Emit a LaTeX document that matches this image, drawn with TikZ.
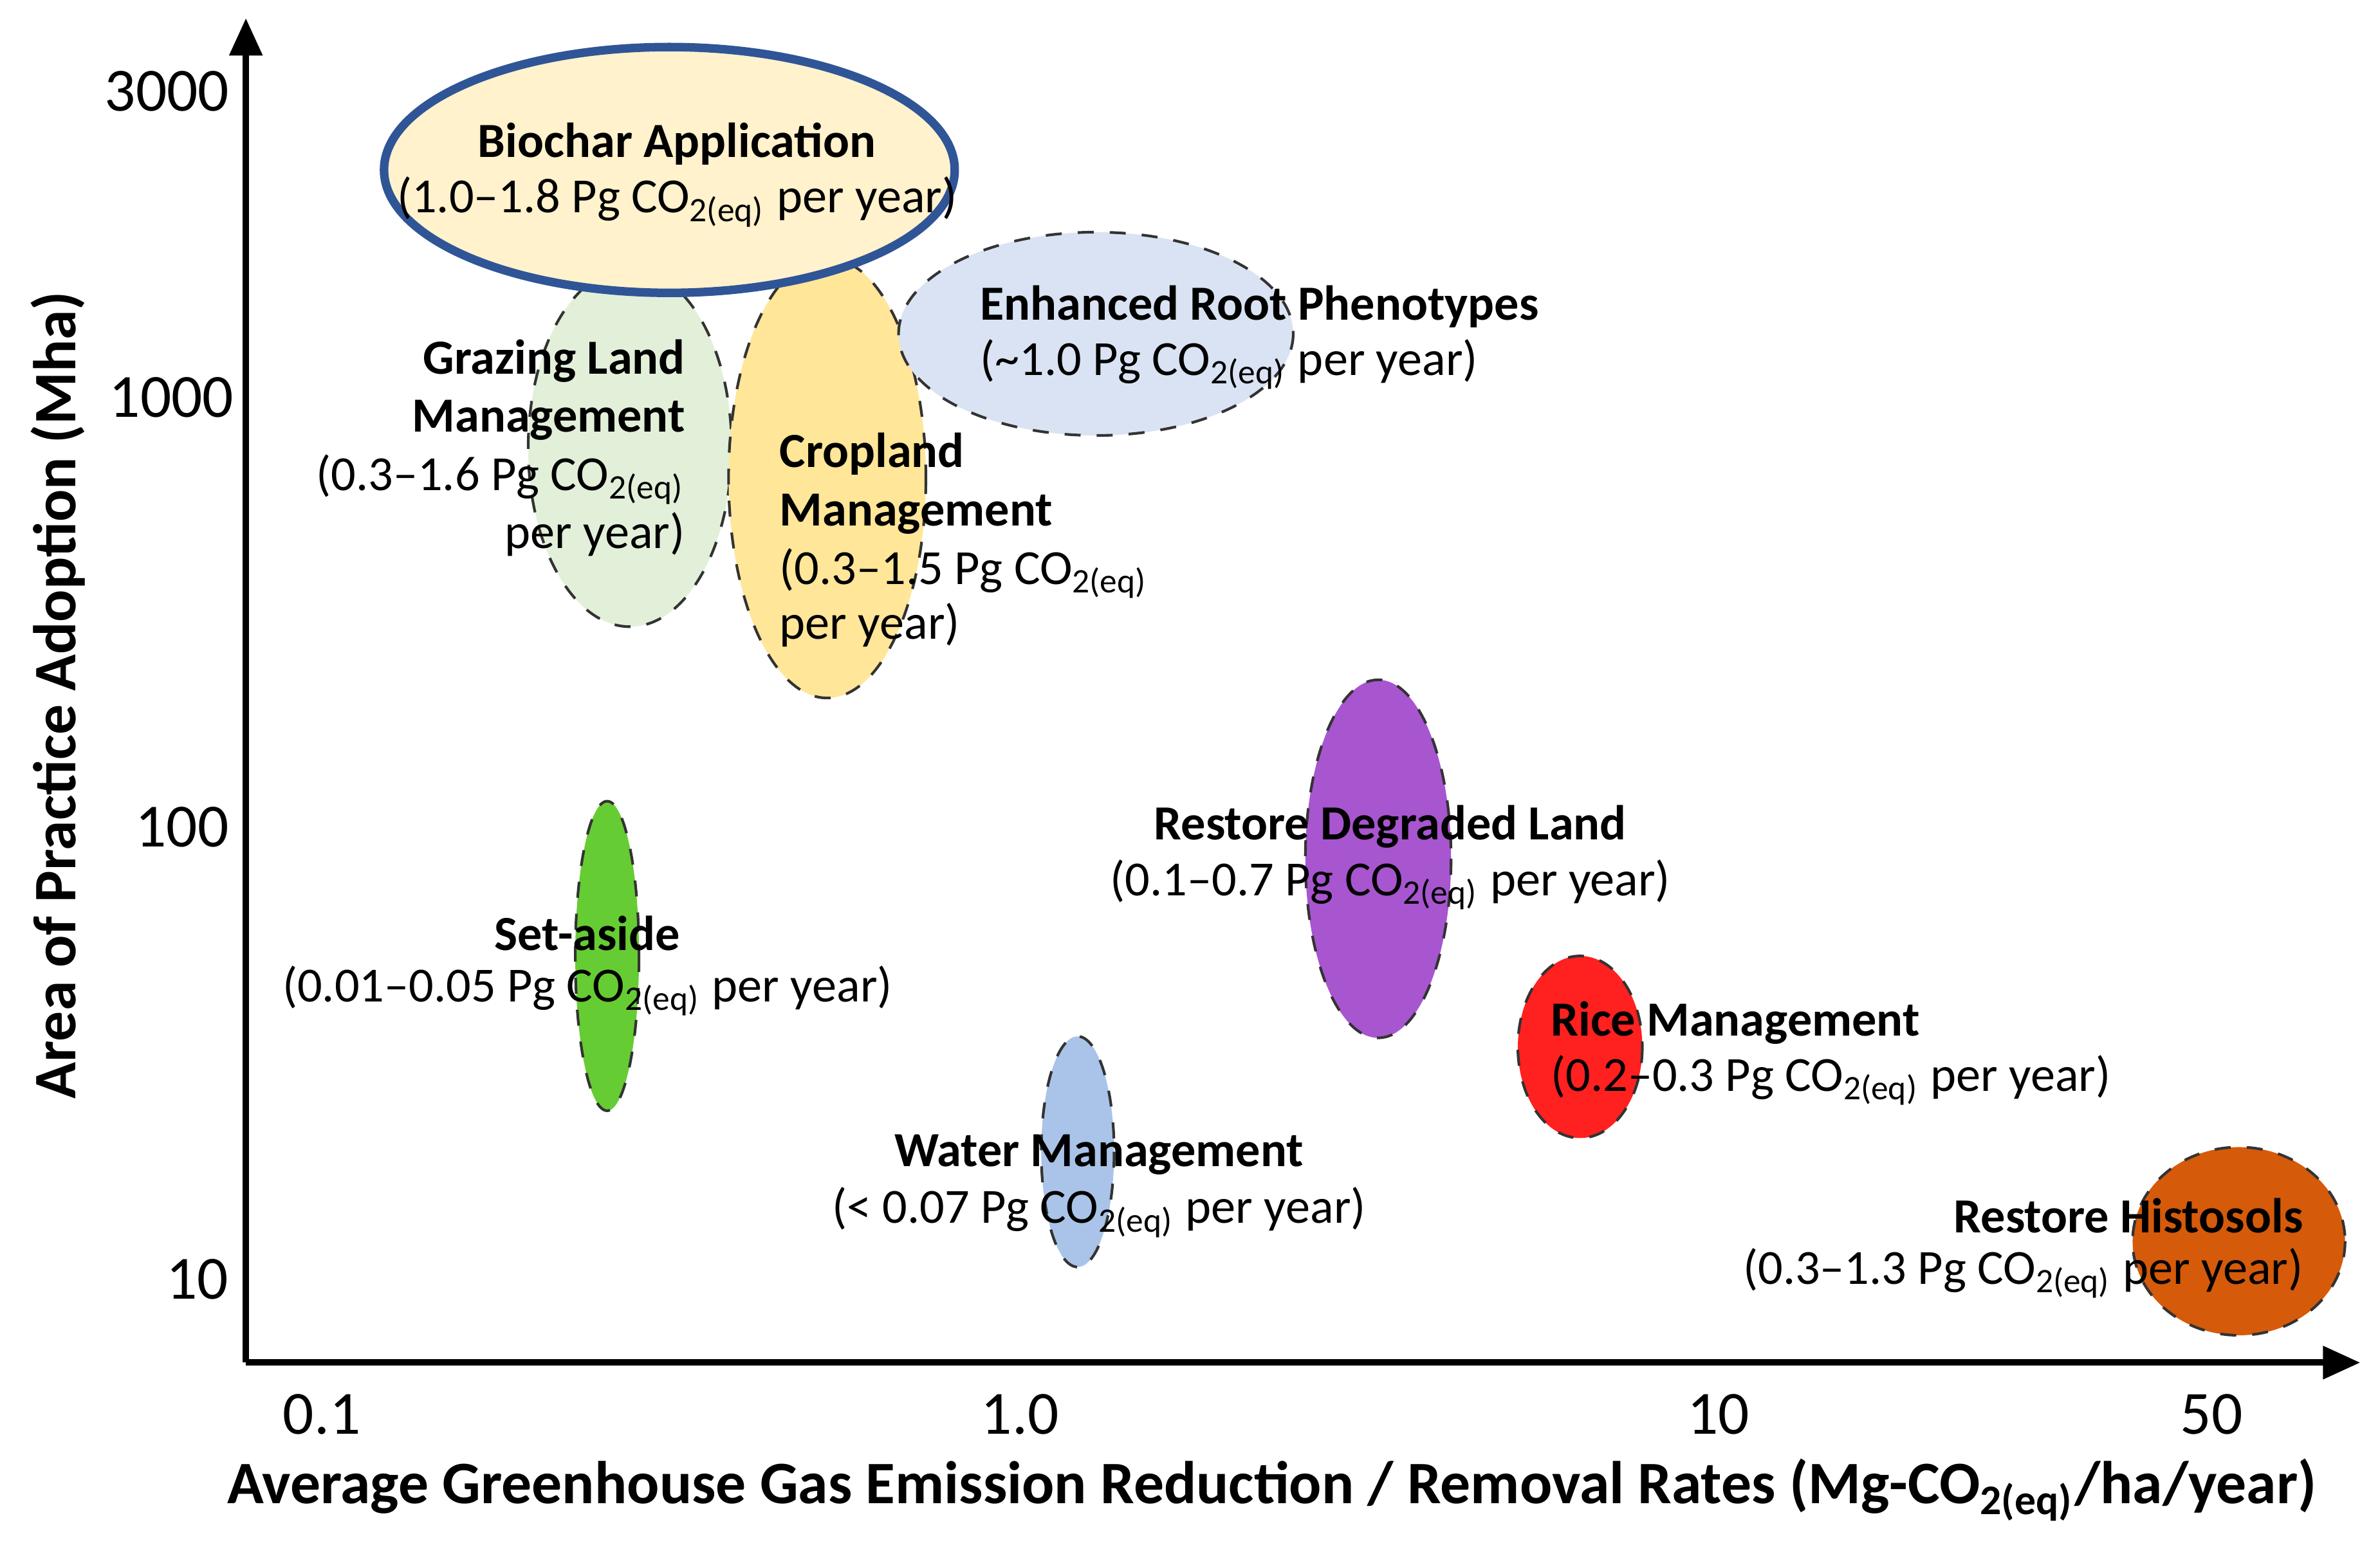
\documentclass[tikz,border=0pt]{standalone}
\usepackage{fontspec}
\setmainfont{Carlito}
\usetikzlibrary{arrows.meta}
\newcommand{\coeq}{CO\textsubscript{2(eq)}}
\begin{document}
\begin{tikzpicture}[x=0.01cm,y=-0.01cm,
  blob/.style={draw=black!80,dashed,line width=0.5pt},
  lb/.style={font=\fontsize{9.2}{11}\selectfont\bfseries,inner sep=0pt},
  lt/.style={font=\fontsize{9.2}{11}\selectfont,inner sep=0pt},
  tick/.style={font=\fontsize{11.5}{13}\selectfont,inner sep=0pt},
  axt/.style={font=\fontsize{11.3}{13}\selectfont\bfseries,inner sep=0pt}]
\useasboundingbox (0,0) rectangle (1568,1018);
% axes
\coordinate (o) at (162,898);
\coordinate (ytop) at (162,12);
\coordinate (xend) at (1555,898);
\draw[line width=1.2pt,-{Triangle[length=7pt,width=6pt]}] (o) -- (ytop);
\draw[line width=1.2pt,-{Triangle[length=7pt,width=6pt]}] (o) -- (xend);
\node[tick] (t3000) at (110,60) {3000};
\node[tick] (t1000) at (113,262) {1000};
\node[tick] (t100) at (120,545) {100};
\node[tick] (t10) at (130,843) {10};
\node[tick] (x01) at (212,932) {0.1};
\node[tick] (x1) at (672,932) {1.0};
\node[tick] (x10) at (1132,932) {10};
\node[tick] (x50) at (1457,932) {50};
\node[axt] (xt) at (838,982) {Average Greenhouse Gas Emission Reduction / Removal Rates (Mg-\coeq/ha/year)};
\node[axt,rotate=90] (yt) at (38,458) {Area of Practice Adoption (Mha)};
% ellipses
\draw[blob,fill=green!25!white,fill={rgb,255:red,226;green,240;blue,217}] (415,295) ellipse [x radius=67,y radius=118];
\draw[blob,fill={rgb,255:red,255;green,230;blue,153}] (545,315) ellipse [x radius=65,y radius=145];
\draw[blob,fill={rgb,255:red,218;green,227;blue,243}] (722,220) ellipse [x radius=130,y radius=67];
\draw[line width=1.6pt,draw={rgb,255:red,47;green,85;blue,151},fill={rgb,255:red,255;green,242;blue,204}] (441,112) ellipse [x radius=188,y radius=81];
\draw[blob,fill={rgb,255:red,102;green,204;blue,51}] (400,630) ellipse [x radius=21,y radius=102];
\draw[blob,fill={rgb,255:red,169;green,196;blue,232}] (710,759) ellipse [x radius=24,y radius=76];
\draw[blob,fill={rgb,255:red,168;green,85;blue,208}] (908,566) ellipse [x radius=48,y radius=118];
\draw[blob,fill={rgb,255:red,255;green,32;blue,32}] (1041,690) ellipse [x radius=41,y radius=60];
\draw[blob,fill={rgb,255:red,213;green,90;blue,10}] (1475,818) ellipse [x radius=70,y radius=62];
% labels
\node[lb] (bio1) at (446,95) {Biochar Application};
\node[lt] (bio2) at (446,133) {(1.0–1.8 Pg \coeq\ per year)};
\node[lb,anchor=east] (gr1) at (452,238) {Grazing Land};
\node[lb,anchor=east] (gr2) at (452,277) {Management};
\node[lt,anchor=east] (gr3) at (452,316) {(0.3–1.6 Pg \coeq};
\node[lt,anchor=east] (gr4) at (452,352) {per year)};
\node[lb,anchor=west] (cr1) at (513,299) {Cropland};
\node[lb,anchor=west] (cr2) at (513,339) {Management};
\node[lt,anchor=west] (cr3) at (513,378) {(0.3–1.5 Pg \coeq};
\node[lt,anchor=west] (cr4) at (513,412) {per year)};
\node[lb,anchor=west] (er1) at (645,202) {Enhanced Root Phenotypes};
\node[lt,anchor=west] (er2) at (645,240) {(\textasciitilde1.0 Pg \coeq\ per year)};
\node[lb] (rd1) at (916,545) {Restore Degraded Land};
\node[lt] (rd2) at (916,583) {(0.1–0.7 Pg \coeq\ per year)};
\node[lb] (sa1) at (387,615) {Set-aside};
\node[lt] (sa2) at (387,653) {(0.01–0.05 Pg \coeq\ per year)};
\node[lb,anchor=west] (ri1) at (1021,674) {Rice Management};
\node[lt,anchor=west] (ri2) at (1021,712) {(0.2–0.3 Pg \coeq\ per year)};
\node[lb] (wm1) at (724,761) {Water Management};
\node[lt] (wm2) at (724,799) {(< 0.07 Pg \coeq\ per year)};
\node[lb,anchor=east] (hi1) at (1518,801) {Restore Histosols};
\node[lt,anchor=east] (hi2) at (1518,839) {(0.3–1.3 Pg \coeq\ per year)};
\end{tikzpicture}
\end{document}
